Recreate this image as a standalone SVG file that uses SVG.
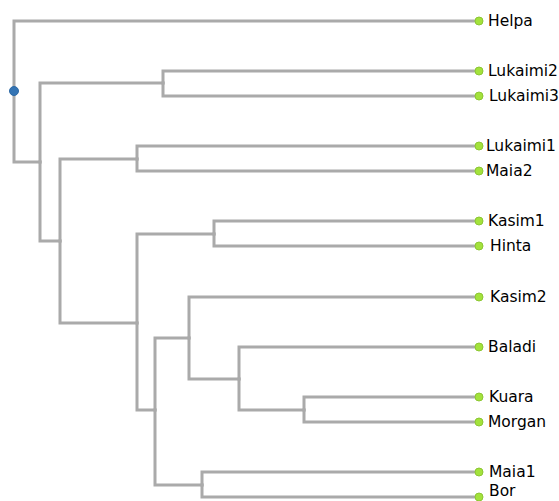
<svg xmlns="http://www.w3.org/2000/svg" width="559" height="501" viewBox="0 0 559 501">
<style>
.e{fill:none;stroke:#aaaaaa;stroke-width:3;stroke-linejoin:miter;stroke-linecap:square}
.leaf circle{fill:#a3e23c;stroke:#8cc633;stroke-width:1}
.leaf text{font-family:"DejaVu Sans",sans-serif;font-size:15.5px;fill:#000}
.root circle{fill:#3474b4;stroke:#2e6aa6;stroke-width:1}
</style>
<rect width="559" height="501" fill="#ffffff"/>
<g id="connectors">
<path class="e" d="M14 91 V21 H479"/>
<path class="e" d="M14 91 V162 H40"/>
<path class="e" d="M40 162 V83 H163"/>
<path class="e" d="M40 162 V241 H60"/>
<path class="e" d="M163 83 V71 H479"/>
<path class="e" d="M163 83 V96 H479"/>
<path class="e" d="M60 241 V159 H137"/>
<path class="e" d="M60 241 V323 H137"/>
<path class="e" d="M137 159 V146 H479"/>
<path class="e" d="M137 159 V171 H479"/>
<path class="e" d="M137 323 V234 H214"/>
<path class="e" d="M137 323 V410 H155"/>
<path class="e" d="M214 234 V221 H479"/>
<path class="e" d="M214 234 V246 H479"/>
<path class="e" d="M155 410 V338 H189"/>
<path class="e" d="M155 410 V485 H202"/>
<path class="e" d="M189 338 V297 H479"/>
<path class="e" d="M189 338 V379 H239"/>
<path class="e" d="M239 379 V347 H479"/>
<path class="e" d="M239 379 V410 H304"/>
<path class="e" d="M304 410 V397 H479"/>
<path class="e" d="M304 410 V422 H479"/>
<path class="e" d="M202 485 V472 H479"/>
<path class="e" d="M202 485 V497 H479"/>
</g>
<g id="root" class="root"><circle cx="14" cy="91" r="4.5"/></g>
<g id="Helpa" class="leaf"><circle cx="479" cy="21" r="4"/><text x="488" y="26">Helpa</text></g>
<g id="Lukaimi2" class="leaf"><circle cx="479" cy="71" r="4"/><text x="488" y="76">Lukaimi2</text></g>
<g id="Lukaimi3" class="leaf"><circle cx="479" cy="96" r="4"/><text x="489" y="101">Lukaimi3</text></g>
<g id="Lukaimi1" class="leaf"><circle cx="479" cy="146" r="4"/><text x="486" y="151">Lukaimi1</text></g>
<g id="Maia2" class="leaf"><circle cx="479" cy="171" r="4"/><text x="486" y="176">Maia2</text></g>
<g id="Kasim1" class="leaf"><circle cx="479" cy="221" r="4"/><text x="488" y="226">Kasim1</text></g>
<g id="Hinta" class="leaf"><circle cx="479" cy="246" r="4"/><text x="490" y="251">Hinta</text></g>
<g id="Kasim2" class="leaf"><circle cx="479" cy="297" r="4"/><text x="490" y="302">Kasim2</text></g>
<g id="Baladi" class="leaf"><circle cx="479" cy="347" r="4"/><text x="488" y="352">Baladi</text></g>
<g id="Kuara" class="leaf"><circle cx="479" cy="397" r="4"/><text x="489" y="402">Kuara</text></g>
<g id="Morgan" class="leaf"><circle cx="479" cy="422" r="4"/><text x="488" y="427">Morgan</text></g>
<g id="Maia1" class="leaf"><circle cx="479" cy="472" r="4"/><text x="489" y="477">Maia1</text></g>
<g id="Bor" class="leaf"><circle cx="479" cy="497" r="4"/><text x="489" y="496">Bor</text></g>
</svg>
